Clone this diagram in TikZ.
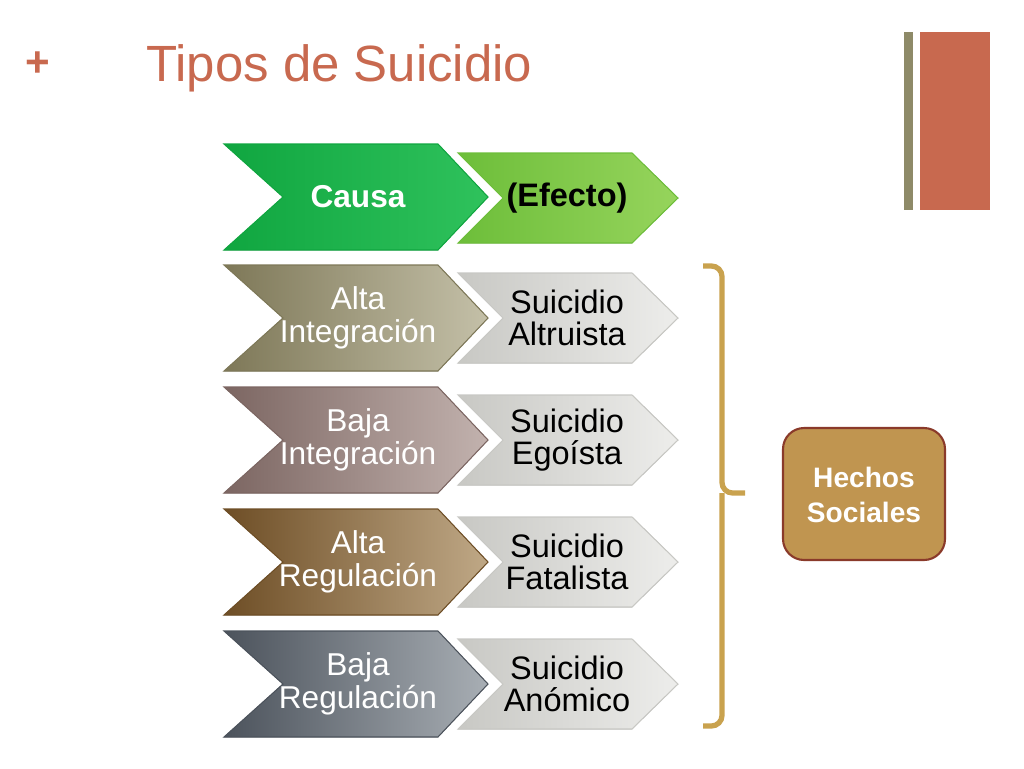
\documentclass[tikz,border=0pt]{standalone}
\usepackage{fontspec}
\setmainfont{Liberation Sans}
\definecolor{rust}{HTML}{C8694F}
\definecolor{olivebar}{HTML}{8E8A68}
\definecolor{gold}{HTML}{C9A24E}
\definecolor{boxfill}{HTML}{C09550}
\definecolor{boxline}{HTML}{8A3A2A}
\definecolor{causeA}{HTML}{10A640}\definecolor{causeB}{HTML}{2FC25C}
\definecolor{effA}{HTML}{6DBE3A}\definecolor{effB}{HTML}{96D45C}
\definecolor{intA}{HTML}{7E7858}\definecolor{intB}{HTML}{C4C0A8}
\definecolor{bintA}{HTML}{7C6662}\definecolor{bintB}{HTML}{C2B2AE}
\definecolor{regA}{HTML}{6E4E26}\definecolor{regB}{HTML}{BFA886}
\definecolor{bregA}{HTML}{4C535C}\definecolor{bregB}{HTML}{A8AEB4}
\definecolor{sucA}{HTML}{C8C8C4}\definecolor{sucB}{HTML}{EDEDEB}
% big chevron: #1 name, #2 y centre, #3 dark colour, #4 light colour, #5 text
\newcommand\causechev[5]{%
  \fill[left color=#3,right color=#4,draw=#3,line width=0.6pt]
    (224,#2-53) -- (438,#2-53) -- (488,#2) -- (438,#2+53) -- (224,#2+53) -- (283,#2) -- cycle;
  \node[causetext] (#1) at (358,#2) {#5};}
% small chevron
\newcommand\effectchev[5]{%
  \fill[left color=#3,right color=#4,draw=#3,line width=0.6pt]
    (458,#2-45) -- (632,#2-45) -- (678,#2) -- (632,#2+45) -- (458,#2+45) -- (503,#2) -- cycle;
  \node[effecttext] (#1) at (567,#2) {#5};}
\begin{document}
\begin{tikzpicture}[x=0.02cm,y=-0.02cm,
    causetext/.style = {white, align=center, font=\fontsize{18}{18.5}\selectfont},
    effecttext/.style = {black, align=center, font=\fontsize{18.5}{18.5}\selectfont}]
  \useasboundingbox (0,0) rectangle (1024,768);
  % title
  \node[rust, font=\fontsize{24}{24}\selectfont\bfseries] (plus) at (38,64) {+};
  \node[rust, anchor=west, font=\fontsize{29}{32}\selectfont] (title) at (140,68) {Tipos de Suicidio};
  \fill[olivebar] (904,32) rectangle (913,210);
  \fill[rust] (920,32) rectangle (990,210);
  % chevrons
  \causechev{causa}{197}{causeA}{causeB}{\bfseries Causa}
  \effectchev{efecto}{198}{effA}{effB}{\bfseries (Efecto)}
  \causechev{altaint}{318}{intA}{intB}{Alta\\Integración}
  \effectchev{altruista}{318}{sucA}{sucB}{Suicidio\\Altruista}
  \causechev{bajaint}{440}{bintA}{bintB}{Baja\\Integración}
  \effectchev{egoista}{440}{sucA}{sucB}{Suicidio\\Egoísta}
  \causechev{altareg}{562}{regA}{regB}{Alta\\Regulación}
  \effectchev{fatalista}{562}{sucA}{sucB}{Suicidio\\Fatalista}
  \causechev{bajareg}{684}{bregA}{bregB}{Baja\\Regulación}
  \effectchev{anomico}{684}{sucA}{sucB}{Suicidio\\Anómico}
  % brace
  \coordinate (btop) at (703,266);
  \coordinate (bbot) at (703,726);
  \coordinate (bmid) at (745,493);
  \draw[gold, line width=3pt, rounded corners=6pt]
    (btop) -- (722,266) -- (722,493) -- (bmid);
  \draw[gold, line width=3pt, rounded corners=6pt]
    (bbot) -- (722,726) -- (722,493);
  % hechos sociales
  \filldraw[fill=boxfill, draw=boxline, line width=1.2pt, rounded corners=12pt]
    (783,428) rectangle (945,560);
  \node[white, align=center, font=\fontsize{16}{20}\selectfont\bfseries] (hechos) at (864,495) {Hechos\\Sociales};
\end{tikzpicture}
\end{document}
